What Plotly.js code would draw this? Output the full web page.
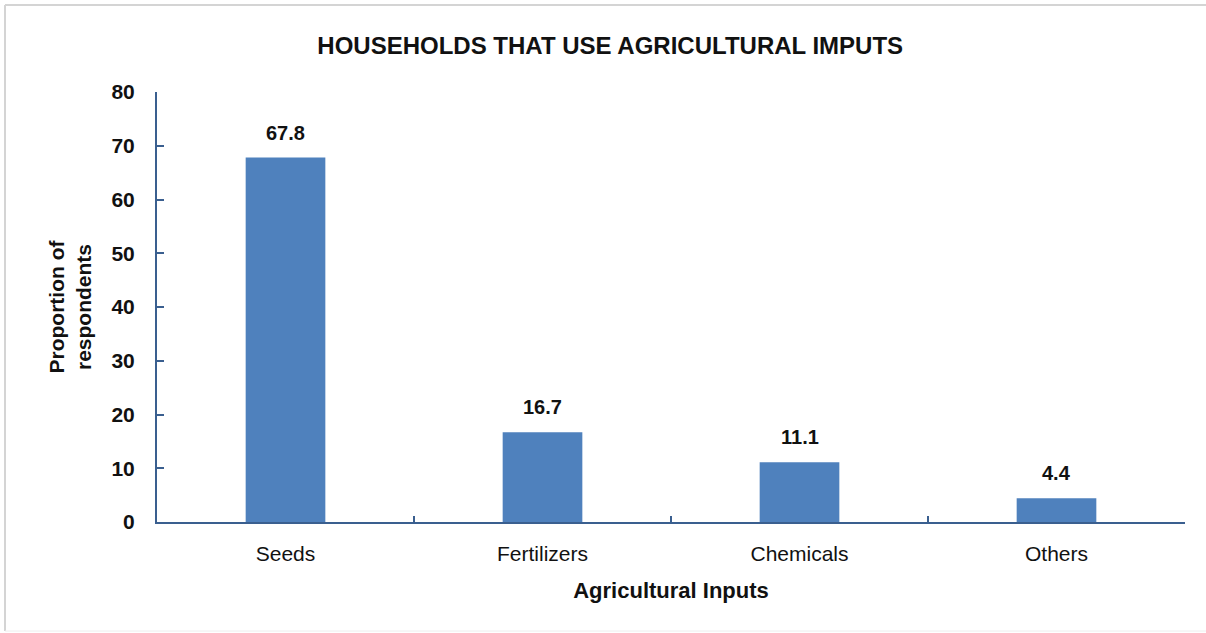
<!DOCTYPE html>
<html><head><meta charset="utf-8">
<script src="https://cdn.plot.ly/plotly-3.0.1.min.js"></script>
<style>html,body{margin:0;padding:0;background:#fff;}#chart{width:1206px;height:633px;}</style>
</head><body><div id="chart"></div>
<script>
const categories = ["Seeds", "Fertilizers", "Chemicals", "Others"];
const values = [67.8, 16.7, 11.1, 4.4];
const valueLabels = ["67.8", "16.7", "11.1", "4.4"];

const FONT = "'Liberation Sans', Arial, sans-serif";
const AXIS = "#3A5F8F";

const trace = {
  type: "bar",
  x: categories,
  y: values,
  marker: {color: "#4F81BD", line: {width: 0}},
  hoverinfo: "x+y"
};

const labelAnnotations = categories.map((c, i) => ({
  x: c, y: values[i], xref: "x", yref: "y",
  text: "<b>" + valueLabels[i] + "</b>",
  showarrow: false, yanchor: "middle", xanchor: "center", yshift: 25,
  font: {family: FONT, size: 20, color: "#111"}
}));

const L = 157, R = 1185, T = 92, B = 522;
const px = v => (v - L) / (R - L);
const py = v => (B - v) / (B - T);

const layout = {
  width: 1206, height: 633,
  margin: {l: L, r: 1206 - R, t: T, b: 633 - B},
  paper_bgcolor: "#fff", plot_bgcolor: "#fff",
  bargap: 0.69,
  showlegend: false,
  title: {text: "<b>HOUSEHOLDS THAT USE AGRICULTURAL IMPUTS</b>", x: 0.506, xanchor: "center", y: 0.928, yanchor: "middle",
          font: {family: FONT, size: 24, color: "#111"}},
  xaxis: {
    type: "category",
    showline: true, linecolor: AXIS, linewidth: 2,
    ticks: "inside", tickson: "boundaries", ticklen: 6, tickcolor: AXIS, tickwidth: 2,
    showgrid: false, zeroline: false,
    tickfont: {family: FONT, size: 21, color: "#111"},
    ticklabelstandoff: 12,
    title: {text: "<b>Agricultural Inputs</b>", font: {family: FONT, size: 22, color: "#111"}, standoff: 18}
  },
  yaxis: {
    range: [0, 80], dtick: 10, tick0: 0,
    showline: true, linecolor: AXIS, linewidth: 2,
    ticks: "inside", ticklen: 7, tickcolor: AXIS, tickwidth: 2,
    showgrid: false, zeroline: false,
    tickfont: {family: FONT, size: 21, color: "#111", weight: "bold"},
    ticklabelstandoff: 16,
    title: {text: "<b>Proportion of<br>respondents</b>", font: {family: FONT, size: 21, color: "#111"}, standoff: 14}
  },
  annotations: labelAnnotations,
  shapes: [
    {type: "line", xref: "paper", yref: "paper", x0: px(5), x1: px(1206), y0: py(5), y1: py(5), line: {color: "#D4D4D4", width: 2}},
    {type: "line", xref: "paper", yref: "paper", x0: px(5), x1: px(5), y0: py(5), y1: py(631), line: {color: "#D4D4D4", width: 2}},
    {type: "line", xref: "paper", yref: "paper", x0: px(5), x1: px(1206), y0: py(631), y1: py(631), line: {color: "#EEEEEE", width: 1}}
  ]
};

Plotly.newPlot("chart", [trace], layout, {displayModeBar: false, staticPlot: true});
</script>
</body></html>
